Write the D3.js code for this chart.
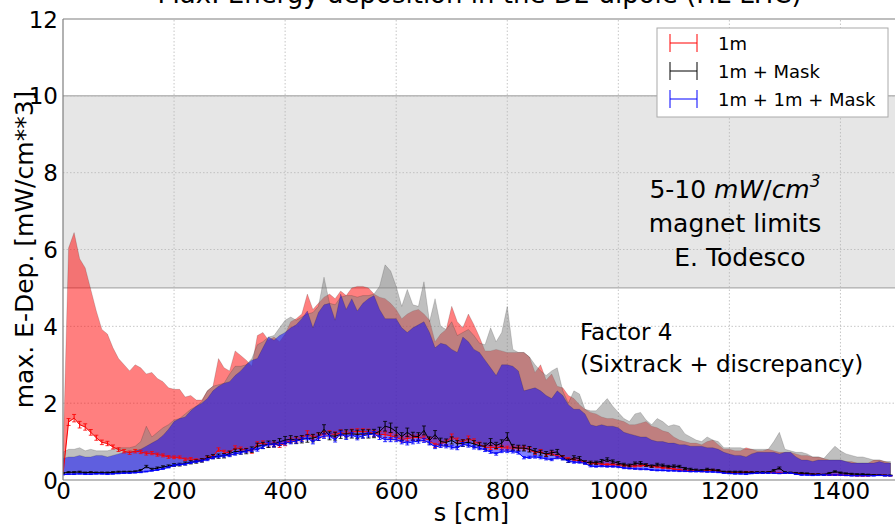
<!DOCTYPE html>
<html>
<head>
<meta charset="utf-8">
<script src="https://cdn.jsdelivr.net/npm/d3@7"></script>
<style>
  body { margin: 0; background: #fff; }
  svg { display: block; font-family: "DejaVu Sans", sans-serif; }
</style>
</head>
<body>
<div id="chart"></div>
<script>
// s positions [cm], one point every 10 cm
const sPos = d3.range(0, 1500, 10);

// max. energy deposition [mW/cm^3]
const edep1m = [
  0.15, 1.51, 1.61, 1.44, 1.38, 1.24, 1.10, 0.98, 0.95, 0.86,
  0.79, 0.75, 0.71, 0.75, 0.73, 0.69, 0.70, 0.66, 0.64, 0.60,
  0.59, 0.59, 0.54, 0.55, 0.52, 0.52, 0.58, 0.61, 0.79, 0.73,
  0.71, 0.84, 0.81, 0.78, 0.74, 0.94, 0.96, 0.91, 0.93, 0.90,
  0.95, 1.03, 1.05, 1.08, 1.21, 1.11, 1.15, 1.19, 1.21, 1.18,
  1.23, 1.20, 1.25, 1.26, 1.26, 1.25, 1.21, 1.19, 1.18, 1.15,
  1.11, 1.05, 1.08, 1.10, 1.11, 1.08, 1.04, 0.90, 0.95, 0.98,
  1.13, 1.03, 0.99, 1.08, 1.01, 0.93, 0.84, 0.84, 0.85, 0.84,
  0.83, 0.83, 0.83, 0.83, 0.80, 0.70, 0.75, 0.65, 0.69, 0.61,
  0.60, 0.55, 0.53, 0.49, 0.46, 0.44, 0.43, 0.41, 0.40, 0.40,
  0.39, 0.38, 0.36, 0.36, 0.37, 0.38, 0.35, 0.34, 0.32, 0.31,
  0.28, 0.26, 0.25, 0.24, 0.24, 0.23, 0.25, 0.26, 0.23, 0.20,
  0.20, 0.19, 0.19, 0.21, 0.20, 0.19, 0.19, 0.20, 0.19, 0.18,
  0.18, 0.18, 0.17, 0.16, 0.16, 0.15, 0.15, 0.14, 0.13, 0.13,
  0.13, 0.12, 0.12, 0.11, 0.11, 0.11, 0.13, 0.13, 0.12, 0.11
];
const edep1mMask = [
  0.18, 0.20, 0.20, 0.21, 0.19, 0.20, 0.19, 0.19, 0.19, 0.20,
  0.21, 0.21, 0.21, 0.22, 0.25, 0.35, 0.28, 0.31, 0.34, 0.36,
  0.39, 0.40, 0.43, 0.46, 0.48, 0.51, 0.58, 0.61, 0.62, 0.63,
  0.69, 0.74, 0.74, 0.75, 0.79, 0.88, 0.90, 0.93, 0.94, 0.99,
  1.04, 1.06, 1.04, 1.06, 1.08, 1.09, 1.13, 1.32, 1.15, 1.14,
  1.19, 1.20, 1.20, 1.19, 1.20, 1.20, 1.21, 1.26, 1.40, 1.36,
  1.26, 1.13, 1.24, 1.14, 1.13, 1.29, 1.03, 1.18, 1.00, 0.98,
  1.03, 0.94, 0.96, 0.98, 0.94, 0.89, 0.88, 0.99, 0.90, 0.96,
  1.13, 0.85, 0.83, 0.83, 0.80, 0.75, 0.71, 0.68, 0.71, 0.73,
  0.58, 0.50, 0.58, 0.56, 0.46, 0.45, 0.45, 0.49, 0.53, 0.48,
  0.44, 0.40, 0.38, 0.43, 0.44, 0.39, 0.36, 0.40, 0.38, 0.35,
  0.36, 0.35, 0.30, 0.28, 0.26, 0.25, 0.28, 0.26, 0.25, 0.21,
  0.21, 0.21, 0.21, 0.20, 0.20, 0.20, 0.20, 0.20, 0.25, 0.31,
  0.20, 0.19, 0.18, 0.18, 0.17, 0.15, 0.15, 0.14, 0.18, 0.22,
  0.19, 0.17, 0.16, 0.15, 0.15, 0.14, 0.13, 0.13, 0.12, 0.12
];
const edep1m1mMask = [
  0.14, 0.15, 0.15, 0.16, 0.15, 0.15, 0.16, 0.16, 0.15, 0.16,
  0.17, 0.18, 0.18, 0.19, 0.20, 0.22, 0.24, 0.26, 0.29, 0.33,
  0.38, 0.40, 0.41, 0.45, 0.48, 0.50, 0.53, 0.58, 0.61, 0.63,
  0.64, 0.68, 0.71, 0.75, 0.78, 0.79, 0.86, 0.93, 0.91, 0.94,
  0.96, 0.99, 1.01, 1.05, 1.10, 0.99, 1.09, 1.14, 1.15, 1.04,
  1.21, 1.11, 1.18, 1.10, 1.15, 1.18, 1.20, 1.11, 1.05, 1.05,
  1.05, 0.99, 0.96, 0.99, 1.01, 1.03, 0.96, 0.86, 0.89, 0.88,
  0.85, 0.83, 0.93, 0.90, 0.85, 0.83, 0.78, 0.73, 0.68, 0.75,
  0.75, 0.74, 0.71, 0.58, 0.59, 0.60, 0.58, 0.55, 0.53, 0.58,
  0.55, 0.49, 0.46, 0.46, 0.43, 0.36, 0.35, 0.36, 0.35, 0.35,
  0.34, 0.31, 0.30, 0.29, 0.28, 0.28, 0.26, 0.25, 0.25, 0.24,
  0.24, 0.23, 0.23, 0.22, 0.22, 0.22, 0.21, 0.21, 0.20, 0.18,
  0.17, 0.16, 0.16, 0.15, 0.17, 0.18, 0.18, 0.18, 0.18, 0.17,
  0.18, 0.18, 0.15, 0.13, 0.13, 0.12, 0.13, 0.13, 0.13, 0.13,
  0.13, 0.12, 0.11, 0.11, 0.11, 0.11, 0.11, 0.12, 0.11, 0.11
];

const seriesNames = ["1m", "1m + Mask", "1m + 1m + Mask"];
const seriesColors = ["#ff0000", "#000000", "#0000ff"];
const fillColors = ["#ff0000", "#808080", "#0000ff"];
const fillAlpha = [0.5, 0.5, 0.5];
const relErr = [0.06, 0.09, 0.05];   // relative statistical error
const factor = 4;                      // "Factor 4" uncertainty band

const xTicks = [0, 200, 400, 600, 800, 1000, 1200, 1400];
const yTicks = [0, 2, 4, 6, 8, 10, 12];
const limitBand = [5, 10];

const width = 895, height = 524;
const margin = {top: 19, right: -1, bottom: 44, left: 63};

const svg = d3.select("#chart").append("svg")
  .attr("width", width).attr("height", height);

const x = d3.scaleLinear().domain([0, 1500]).range([margin.left, width - margin.right]);
const y = d3.scaleLinear().domain([0, 12]).range([height - margin.bottom, margin.top]);

svg.append("defs").append("clipPath").attr("id", "clip")
  .append("rect")
  .attr("x", x(0)).attr("y", y(12))
  .attr("width", x(1500) - x(0)).attr("height", y(0) - y(12));

// title, mostly above the window
svg.append("text")
  .attr("x", (x(0) + x(1500)) / 2).attr("y", 3)
  .attr("text-anchor", "middle").attr("font-size", 26)
  .text("Max. Energy deposition in the D2 dipole (HL-LHC)");

// magnet limit band
svg.append("rect")
  .attr("x", x(0)).attr("y", y(limitBand[1]))
  .attr("width", x(1500) - x(0)).attr("height", y(limitBand[0]) - y(limitBand[1]))
  .attr("fill", "#e6e6e6");
limitBand.forEach(v => {
  svg.append("line")
    .attr("x1", x(0)).attr("x2", x(1500)).attr("y1", y(v)).attr("y2", y(v))
    .attr("stroke", "#9a9a9a").attr("stroke-width", 1);
});

// grid
const grid = svg.append("g").attr("stroke", "#b8b8b8").attr("stroke-width", 0.8)
  .attr("stroke-dasharray", "1.5,2");
xTicks.slice(1).forEach(t => grid.append("line")
  .attr("x1", x(t)).attr("x2", x(t)).attr("y1", y(0)).attr("y2", y(12)));
yTicks.slice(1, -1).forEach(t => grid.append("line")
  .attr("x1", x(0)).attr("x2", x(1500)).attr("y1", y(t)).attr("y2", y(t)));

const allSeries = [edep1m, edep1mMask, edep1m1mMask];
const plot = svg.append("g").attr("clip-path", "url(#clip)");

const area = d3.area()
  .x((d, i) => x(sPos[i]))
  .y0(d => y(d))
  .y1(d => y(d * factor));

allSeries.forEach((vals, k) => {
  plot.append("path")
    .datum(vals)
    .attr("d", area)
    .attr("fill", fillColors[k]).attr("fill-opacity", fillAlpha[k])
    .attr("stroke", "#000").attr("stroke-opacity", 0.25).attr("stroke-width", 0.6);
});

const line = d3.line().x((d, i) => x(sPos[i])).y(d => y(d));

allSeries.forEach((vals, k) => {
  const g = plot.append("g").attr("stroke", seriesColors[k]).attr("fill", "none");
  g.append("path").datum(vals).attr("d", line).attr("stroke-width", 1);
  vals.forEach((v, i) => {
    const e = v * relErr[k];
    const px = x(sPos[i]);
    g.append("line").attr("x1", px).attr("x2", px)
      .attr("y1", y(v - e)).attr("y2", y(v + e)).attr("stroke-width", 1);
    [v - e, v + e].forEach(c => g.append("line")
      .attr("x1", px - 2).attr("x2", px + 2).attr("y1", y(c)).attr("y2", y(c))
      .attr("stroke-width", 0.8));
  });
});

// spines
const spine = svg.append("g").attr("stroke", "#7f7f7f").attr("stroke-width", 1.2);
spine.append("line").attr("x1", x(0)).attr("x2", x(0)).attr("y1", y(0)).attr("y2", y(12));
spine.append("line").attr("x1", x(0)).attr("x2", x(1500)).attr("y1", y(0)).attr("y2", y(0));
spine.append("line").attr("x1", x(0)).attr("x2", x(1500)).attr("y1", y(12)).attr("y2", y(12));

// axes (labels only)
const xAxis = svg.append("g").attr("transform", `translate(0,${y(0)})`)
  .call(d3.axisBottom(x).tickValues(xTicks).tickFormat(d3.format("d")).tickSize(0).tickPadding(3));
const yAxis = svg.append("g").attr("transform", `translate(${x(0)},0)`)
  .call(d3.axisLeft(y).tickValues(yTicks).tickFormat(d3.format("d")).tickSize(0).tickPadding(5));
[xAxis, yAxis].forEach(a => {
  a.select(".domain").remove();
  a.selectAll("text").attr("font-size", 23).attr("font-family", "DejaVu Sans").attr("fill", "#000");
});
yAxis.selectAll("text").attr("dy", "0.35em");

svg.append("text")
  .attr("x", (x(0) + x(1500)) / 2 - 8).attr("y", 521)
  .attr("text-anchor", "middle").attr("font-size", 24)
  .text("s [cm]");
svg.append("text")
  .attr("transform", `translate(33,${(y(0) + y(12)) / 2}) rotate(-90)`)
  .attr("text-anchor", "middle").attr("font-size", 25)
  .text("max. E-Dep. [mW/cm**3]");

// annotations
const lim = svg.append("g").attr("font-size", 25).attr("text-anchor", "middle");
const t1 = lim.append("text").attr("x", 735).attr("y", 198);
t1.append("tspan").text("5-10 ");
t1.append("tspan").attr("font-style", "italic").text("mW");
t1.append("tspan").text("/");
t1.append("tspan").attr("font-style", "italic").text("cm");
t1.append("tspan").attr("font-style", "italic").attr("font-size", 17).attr("dy", -11).text("3");
lim.append("text").attr("x", 735).attr("y", 232).text("magnet limits");
lim.append("text").attr("x", 740).attr("y", 266).text("E. Todesco");

const fac = svg.append("g").attr("font-size", 23);
fac.append("text").attr("x", 580).attr("y", 340).text("Factor 4");
fac.append("text").attr("x", 580).attr("y", 372).text("(Sixtrack + discrepancy)");

// legend
const leg = svg.append("g").attr("transform", "translate(657,28)");
leg.append("rect").attr("width", 231).attr("height", 89)
  .attr("fill", "#fff").attr("stroke", "#aaa").attr("stroke-width", 1);
seriesNames.forEach((name, k) => {
  const cy = 15 + k * 28;
  const g = leg.append("g").attr("stroke", seriesColors[k]).attr("stroke-width", 1);
  g.append("line").attr("x1", 13).attr("x2", 40).attr("y1", cy).attr("y2", cy);
  [13, 40].forEach(xx => g.append("line").attr("x1", xx).attr("x2", xx)
    .attr("y1", cy - 9).attr("y2", cy + 9));
  leg.append("text").attr("x", 61).attr("y", cy + 7).attr("font-size", 18).text(name);
});
</script>
</body>
</html>
